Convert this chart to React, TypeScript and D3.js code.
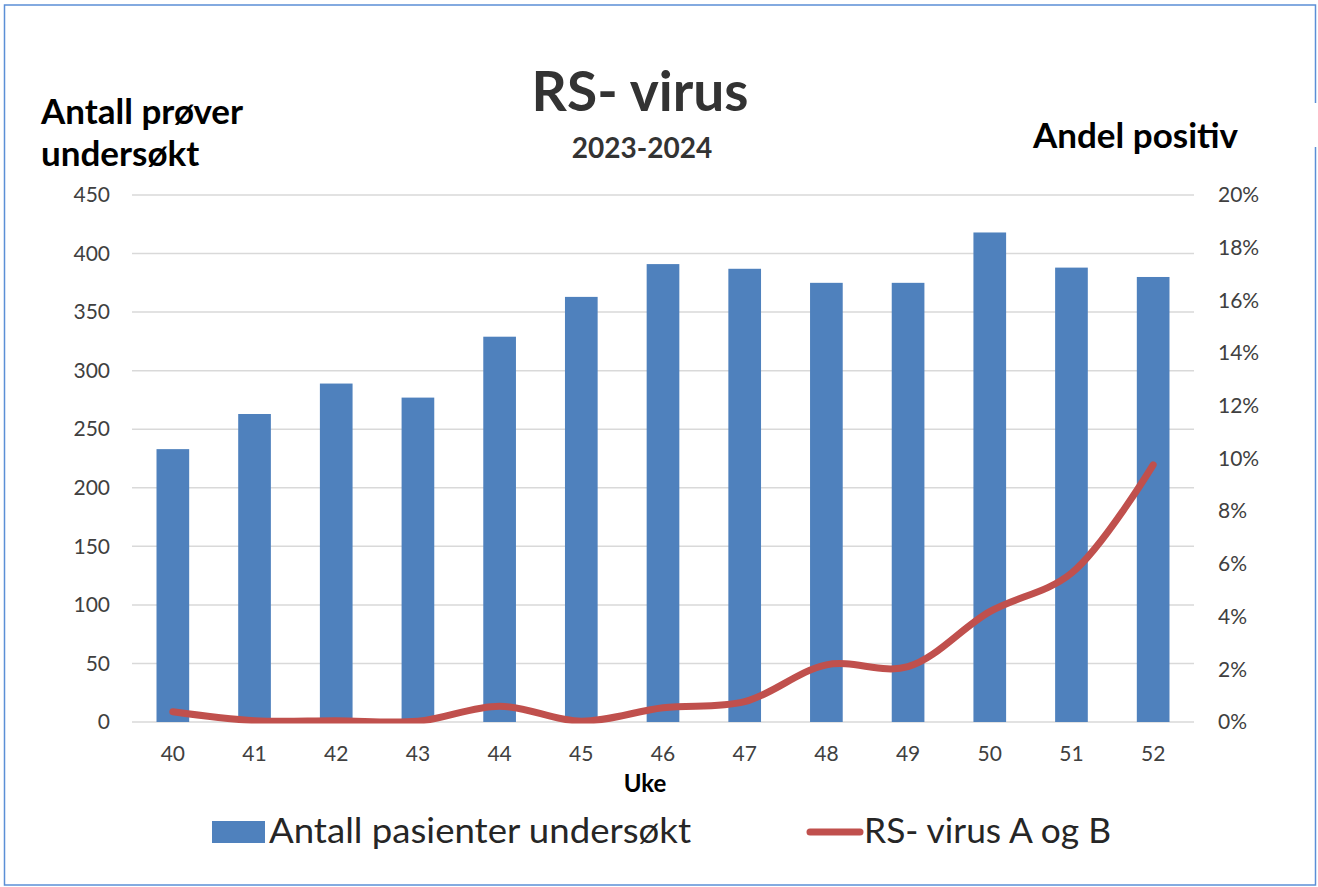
import React, { useEffect, useRef } from "react";
import * as d3 from "d3";

// weeks, tests examined, and share positive (percent)
const weeks = ["40", "41", "42", "43", "44", "45", "46", "47", "48", "49", "50", "51", "52"];
const antallPasienter = [233, 263, 289, 277, 329, 363, 391, 387, 375, 375, 418, 388, 380];
const rsVirusAndel = [0.39, 0.05, 0.05, 0.03, 0.6, 0.03, 0.54, 0.77, 2.17, 2.1, 4.19, 5.65, 9.76];
const leftTicks = [0, 50, 100, 150, 200, 250, 300, 350, 400, 450];
const rightTicks = [0, 2, 4, 6, 8, 10, 12, 14, 16, 18, 20];

const FONT = "Lato, 'Open Sans', sans-serif";

const App = () => {
  const chart = useRef<SVGSVGElement>(null);

  useEffect(() => {
    const width = 1318;
    const height = 887;
    const svg = d3.select(chart.current);
    svg.selectAll("*").remove();
    svg.attr("width", width).attr("height", height).style("font-family", FONT);

    // frame
    svg
      .append("rect")
      .attr("x", 4.5)
      .attr("y", 5)
      .attr("width", 1311)
      .attr("height", 880)
      .attr("fill", "white")
      .attr("stroke", "#5b8fd6")
      .attr("stroke-width", 1.5);
    svg.append("rect").attr("x", 1310).attr("y", 103).attr("width", 8).attr("height", 44).attr("fill", "white");

    // scales
    const x = d3.scaleBand().domain(weeks).range([132, 1194]).paddingInner(0.6).paddingOuter(0.3);
    const yLeft = d3.scaleLinear().domain([0, 450]).range([722, 195]);
    const yRight = d3.scaleLinear().domain([0, 20]).range([722, 195]);

    // gridlines
    svg
      .append("g")
      .selectAll("line")
      .data(leftTicks)
      .join("line")
      .attr("x1", 132)
      .attr("x2", 1194)
      .attr("y1", (d) => yLeft(d))
      .attr("y2", (d) => yLeft(d))
      .attr("stroke", "#d9d9d9")
      .attr("stroke-width", 1.5);

    // left axis
    const left = svg
      .append("g")
      .attr("transform", "translate(122,0)")
      .call(d3.axisLeft(yLeft).tickValues(leftTicks).tickSize(0).tickPadding(12));
    left.select(".domain").remove();
    left.selectAll("text").attr("font-size", 21).attr("fill", "#404040").attr("font-family", FONT);

    // right axis
    const right = svg
      .append("g")
      .attr("transform", "translate(1206,0)")
      .call(
        d3
          .axisRight(yRight)
          .tickValues(rightTicks)
          .tickSize(0)
          .tickPadding(12)
          .tickFormat((d) => `${d}%`)
      );
    right.select(".domain").remove();
    right.selectAll("text").attr("font-size", 21).attr("fill", "#404040").attr("font-family", FONT);

    // bottom axis
    const bottom = svg
      .append("g")
      .attr("transform", "translate(0,722)")
      .call(d3.axisBottom(x).tickSize(0).tickPadding(24));
    bottom.select(".domain").remove();
    bottom.selectAll("text").attr("font-size", 21).attr("fill", "#404040").attr("font-family", FONT);

    // bars
    svg
      .append("g")
      .selectAll("rect")
      .data(antallPasienter)
      .join("rect")
      .attr("x", (d, i) => x(weeks[i]))
      .attr("y", (d) => yLeft(d))
      .attr("width", x.bandwidth())
      .attr("height", (d) => yLeft(0) - yLeft(d))
      .attr("fill", "#4f81bd");

    // line
    svg
      .append("clipPath")
      .attr("id", "plotclip")
      .append("rect")
      .attr("x", 100)
      .attr("y", 150)
      .attr("width", 1120)
      .attr("height", 573.5);
    const line = d3
      .line<number>()
      .x((d, i) => x(weeks[i]) + x.bandwidth() / 2)
      .y((d) => yRight(d))
      .curve(d3.curveCatmullRom.alpha(0.5));
    svg
      .append("path")
      .datum(rsVirusAndel)
      .attr("d", line)
      .attr("fill", "none")
      .attr("stroke", "#c0504d")
      .attr("stroke-width", 7)
      .attr("stroke-linecap", "round")
      .attr("stroke-linejoin", "round")
      .attr("clip-path", "url(#plotclip)");

    // titles
    svg
      .append("text")
      .attr("x", 640)
      .attr("y", 111)
      .attr("text-anchor", "middle")
      .attr("font-size", 55)
      .attr("font-weight", "bold")
      .attr("fill", "#333333")
      .text("RS- virus");
    svg
      .append("text")
      .attr("x", 642)
      .attr("y", 158)
      .attr("text-anchor", "middle")
      .attr("font-size", 28)
      .attr("font-weight", "bold")
      .attr("fill", "#333333")
      .text("2023-2024");
    svg
      .append("text")
      .attr("x", 41)
      .attr("y", 124)
      .attr("font-size", 35)
      .attr("font-weight", "bold")
      .attr("fill", "black")
      .text("Antall prøver");
    svg
      .append("text")
      .attr("x", 41)
      .attr("y", 166)
      .attr("font-size", 35)
      .attr("font-weight", "bold")
      .attr("fill", "black")
      .text("undersøkt");
    svg
      .append("text")
      .attr("x", 1033)
      .attr("y", 148)
      .attr("font-size", 35)
      .attr("font-weight", "bold")
      .attr("fill", "black")
      .text("Andel positiv");
    svg
      .append("text")
      .attr("x", 645)
      .attr("y", 792)
      .attr("text-anchor", "middle")
      .attr("font-size", 24)
      .attr("font-weight", "bold")
      .attr("fill", "black")
      .text("Uke");

    // legend
    const legend = svg.append("g");
    legend.append("rect").attr("x", 212).attr("y", 821).attr("width", 53).attr("height", 22).attr("fill", "#4f81bd");
    legend
      .append("text")
      .attr("x", 269)
      .attr("y", 843)
      .attr("font-size", 34)
      .attr("fill", "#262626")
      .attr("textLength", 422)
      .attr("lengthAdjust", "spacingAndGlyphs")
      .text("Antall pasienter undersøkt");
    legend
      .append("line")
      .attr("x1", 810)
      .attr("x2", 860)
      .attr("y1", 832)
      .attr("y2", 832)
      .attr("stroke", "#c0504d")
      .attr("stroke-width", 7)
      .attr("stroke-linecap", "round");
    legend
      .append("text")
      .attr("x", 864)
      .attr("y", 843)
      .attr("font-size", 34)
      .attr("fill", "#262626")
      .attr("textLength", 247)
      .attr("lengthAdjust", "spacingAndGlyphs")
      .text("RS- virus A og B");
  }, []);

  return (
    <div>
      <svg ref={chart} style={{ position: "absolute", left: 0, top: 0 }}></svg>
    </div>
  );
};

export default App;
